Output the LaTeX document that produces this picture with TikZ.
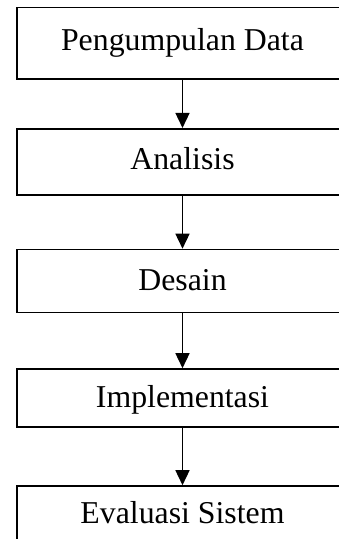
\documentclass[tikz,border=0pt]{standalone}
\usepackage{fontspec}
\setmainfont{Liberation Serif}
\usetikzlibrary{arrows.meta}
\begin{document}
\begin{tikzpicture}[x=1pt,y=-1pt,
  stepbox/.style={draw=black,line width=1.6pt,rectangle,inner sep=0pt,
    minimum width=331pt,font=\fontsize{31.8}{38}\selectfont,
    text height=21pt,text depth=0pt},
  flow/.style={line width=1.5pt,-{Triangle[length=15pt,width=14pt]}}]
\path[use as bounding box,clip] (0,0) rectangle (339,539);
\fill[white] (0,0) rectangle (339,539);
\node[stepbox,minimum height=71.5pt] (b1) at (182.5,43.25) {\raisebox{3pt}{Pengumpulan Data}};
\node[stepbox,minimum height=66.5pt] (b2) at (182.5,162) {\raisebox{3pt}{Analisis}};
\node[stepbox,minimum height=63pt] (b3) at (182.5,281) {\raisebox{1pt}{Desain}};
\node[stepbox,minimum height=58pt] (b4) at (182.5,398) {\raisebox{1.5pt}{Implementasi}};
\node[stepbox,minimum height=56pt] (b5) at (182.5,514) {\raisebox{1pt}{Evaluasi Sistem}};
\draw[flow] (b1) -- (b2);
\draw[flow] (b2) -- (b3);
\draw[flow] (b3) -- (b4);
\draw[flow] (b4) -- (b5);
\end{tikzpicture}
\end{document}
